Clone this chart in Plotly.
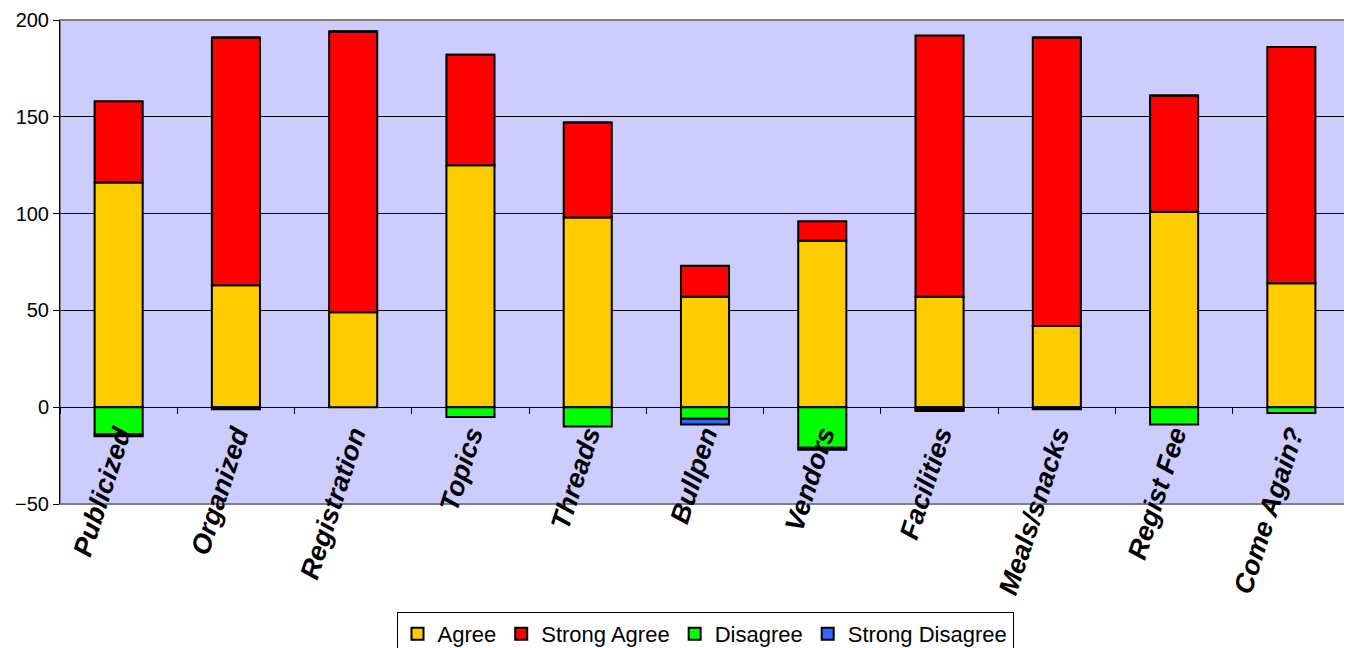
import plotly.graph_objects as go

categories = ["Publicized", "Organized", "Registration", "Topics", "Threads", "Bullpen",
              "Vendors", "Facilities", "Meals/snacks", "Regist Fee", "Come Again?"]
agree = [116, 63, 49, 125, 98, 57, 86, 57, 42, 101, 64]
strong_agree = [42, 128, 145, 57, 49, 16, 10, 135, 149, 60, 122]
disagree = [-14, -1, 0, -5, -10, -6, -21, -1, -1, -9, -3]
strong_disagree = [-1, 0, 0, 0, 0, -3, -1, -1, 0, 0, 0]
y_ticks = [-50, 0, 50, 100, 150, 200]

series = [
    ("Agree", agree, "#FFCC00"),
    ("Strong Agree", strong_agree, "#FF0000"),
    ("Disagree", disagree, "#00FF00"),
    ("Strong Disagree", strong_disagree, "#3366FF"),
]

fig = go.Figure()
for name, vals, col in series:
    fig.add_trace(go.Bar(x=categories, y=vals, name=name,
                         marker=dict(color=col, line=dict(color="black", width=2))))

W, H = 1344, 640
font_family = "Liberation Sans, Arial, sans-serif"
fig.update_layout(
    width=W, height=H,
    barmode="relative", bargap=0.59,
    paper_bgcolor="white", plot_bgcolor="#CCCCFF",
    margin=dict(l=52, r=2, t=12, b=144, autoexpand=False),
    font=dict(family=font_family, size=20, color="black"),
    showlegend=True,
    legend=dict(orientation="h", x=0.5, xanchor="center", yref="container",
                y=(H - 604) / H, yanchor="top",
                bordercolor="black", borderwidth=1, font=dict(size=22),
                traceorder="normal", itemwidth=30, tracegroupgap=0),
    xaxis=dict(anchor="free", position=0.2, showline=True, linecolor="black", linewidth=1,
               ticks="outside", ticklen=6, tickcolor="black", tickson="boundaries",
               tickangle=-72, showgrid=False, automargin=False,
               tickfont=dict(size=27, weight="bold", style="italic")),
    yaxis=dict(range=[-50, 200], tickvals=y_ticks, showline=True, linecolor="black", linewidth=1,
               ticks="outside", ticklen=6, tickcolor="black", showgrid=True, automargin=False,
               gridcolor="black", gridwidth=1, zeroline=True, zerolinecolor="black",
               zerolinewidth=1, tickfont=dict(size=20)),
)
fig.add_shape(type="rect", xref="x domain", yref="y domain", x0=0, x1=1, y0=0, y1=1,
              line=dict(color="#808080", width=2), layer="below")
fig.write_html("out.html")
